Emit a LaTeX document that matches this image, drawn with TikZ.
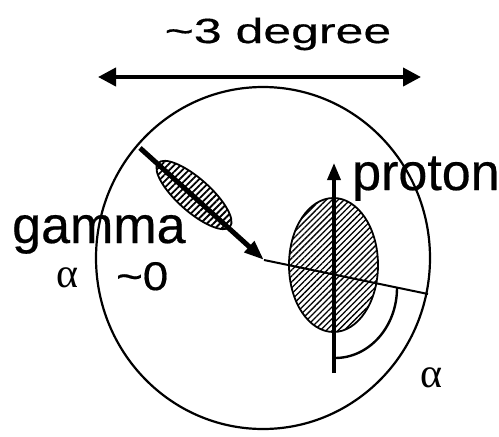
\documentclass[tikz,border=0pt]{standalone}
\usepackage{fontspec}
\setmainfont{Liberation Sans}[FakeBold=0.4]
\newfontfamily\greekserif{Liberation Serif}
\usetikzlibrary{arrows.meta,patterns.meta}
\begin{document}
\begin{tikzpicture}[x=1pt,y=-1pt,
  outline/.style={line width=2.2pt},
  lbl/.style={inner sep=0pt},
  bigtxt/.style={lbl,font=\fontsize{52}{52}\selectfont},
  alph/.style={lbl,font=\greekserif\fontsize{42}{42}\selectfont},
  hatchA/.style={line width=1.8pt,pattern={Lines[angle=45,distance=4.2pt,line width=1.3pt]}},
  hatchB/.style={line width=1.8pt,pattern={Lines[angle=45,distance=4.6pt,line width=1.8pt]}}]
\useasboundingbox (0,0) rectangle (499,437);
% outer circle
\coordinate (O) at (263,258);
\draw[outline] (O) ellipse [x radius=167, y radius=171];
% width arrow
\coordinate (L) at (98,77);
\coordinate (R) at (421,77);
\draw[line width=4pt,{Triangle[length=18pt,width=18pt]}-{Triangle[length=18pt,width=18pt]}] (L) -- (R);
\node[lbl,anchor=base] (deg) at (278,43) {\fontsize{50}{50}\selectfont\scalebox{1.0}[0.7]{\textasciitilde3 degree}};
% proton ellipse
\coordinate (pc) at (333.5,265);
\draw[hatchA] (pc) ellipse [x radius=44.5, y radius=67];
% gamma ellipse
\coordinate (gc) at (194,195);
\draw[hatchB, rotate around={-41.6:(gc)}] (gc) ellipse [x radius=48, y radius=16.5];
% gamma track
\coordinate (gs) at (140,148);
\coordinate (gt) at (264,260);
\coordinate (te) at (428,294);
\draw[line width=2pt] (gt) -- (te);
\draw[line width=5pt,-{Triangle[length=20pt,width=14pt]}] (gs) -- (gt);
% proton arrow
\coordinate (pb) at (334,373);
\coordinate (ptop) at (334,163);
\draw[line width=3.5pt,-{Triangle[length=17pt,width=13pt]}] (pb) -- (ptop);
% angle arc
\coordinate (A) at (397,288);
\draw[line width=2.4pt] (A) arc[start angle=0,end angle=90,x radius=62,y radius=70];
% labels
\node[bigtxt,anchor=base west] (gam) at (12,243) {gamma};
\node[bigtxt,anchor=base west] (pro) at (352,190) {proton};
\node[lbl,anchor=base west] (zero) at (116,290) {\fontsize{40}{40}\selectfont\scalebox{1.14}[1]{\textasciitilde0}};
\node[alph] (a1) at (68,278) {α};
\node[alph] (a2) at (432,378) {α};
\end{tikzpicture}
\end{document}
